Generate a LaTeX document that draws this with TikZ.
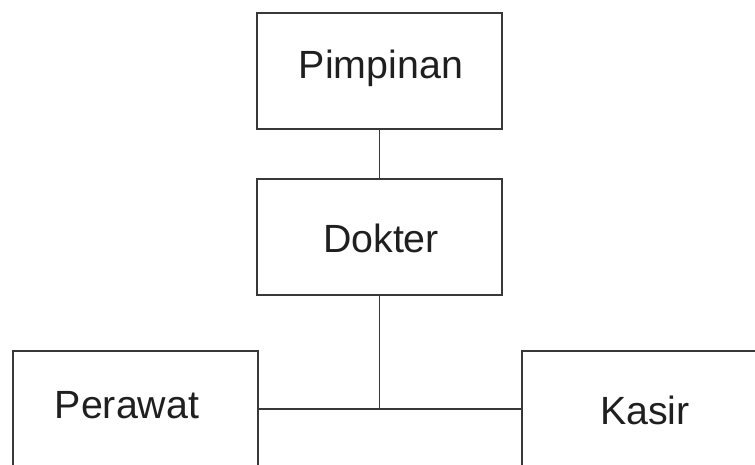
\documentclass[tikz,border=0pt]{standalone}
\usepackage{fontspec}
\setmainfont{Liberation Sans}
\begin{document}
\begin{tikzpicture}[x=1bp,y=-1bp,
  box/.style={draw=black!78, line width=1.6bp, rectangle, inner sep=0pt},
  lbl/.style={inner sep=0pt, text=black!88, font=\fontsize{39.5}{41}\selectfont},
  conn/.style={draw=black!78, line width=1.6bp}]
\useasboundingbox (0,0) rectangle (755,465);
\clip (0,0) rectangle (755,465);
\fill[white] (0,0) rectangle (755,465);
\node[box, minimum width=245bp, minimum height=116bp] (pimpinan) at (379.5,71) {};
\node[lbl] (tpimpinan) at (381,68) {Pimpinan};
\node[box, minimum width=245bp, minimum height=116bp] (dokter) at (379.5,237) {};
\node[lbl] (tdokter) at (381,238) {Dokter};
\node[box, minimum width=245bp, minimum height=116bp] (perawat) at (135.5,409) {};
\node[lbl] (tperawat) at (127,405) {Perawat};
\node[box, minimum width=246bp, minimum height=116bp] (kasir) at (645,409) {};
\node[lbl] (tkasir) at (645,410) {Kasir};
\coordinate (junc) at (dokter.south |- perawat.east);
\draw[conn] (pimpinan.south) -- (dokter.north);
\draw[conn] (dokter.south) -- (junc);
\draw[conn] (perawat.east) -- (kasir.west);
\end{tikzpicture}
\end{document}
